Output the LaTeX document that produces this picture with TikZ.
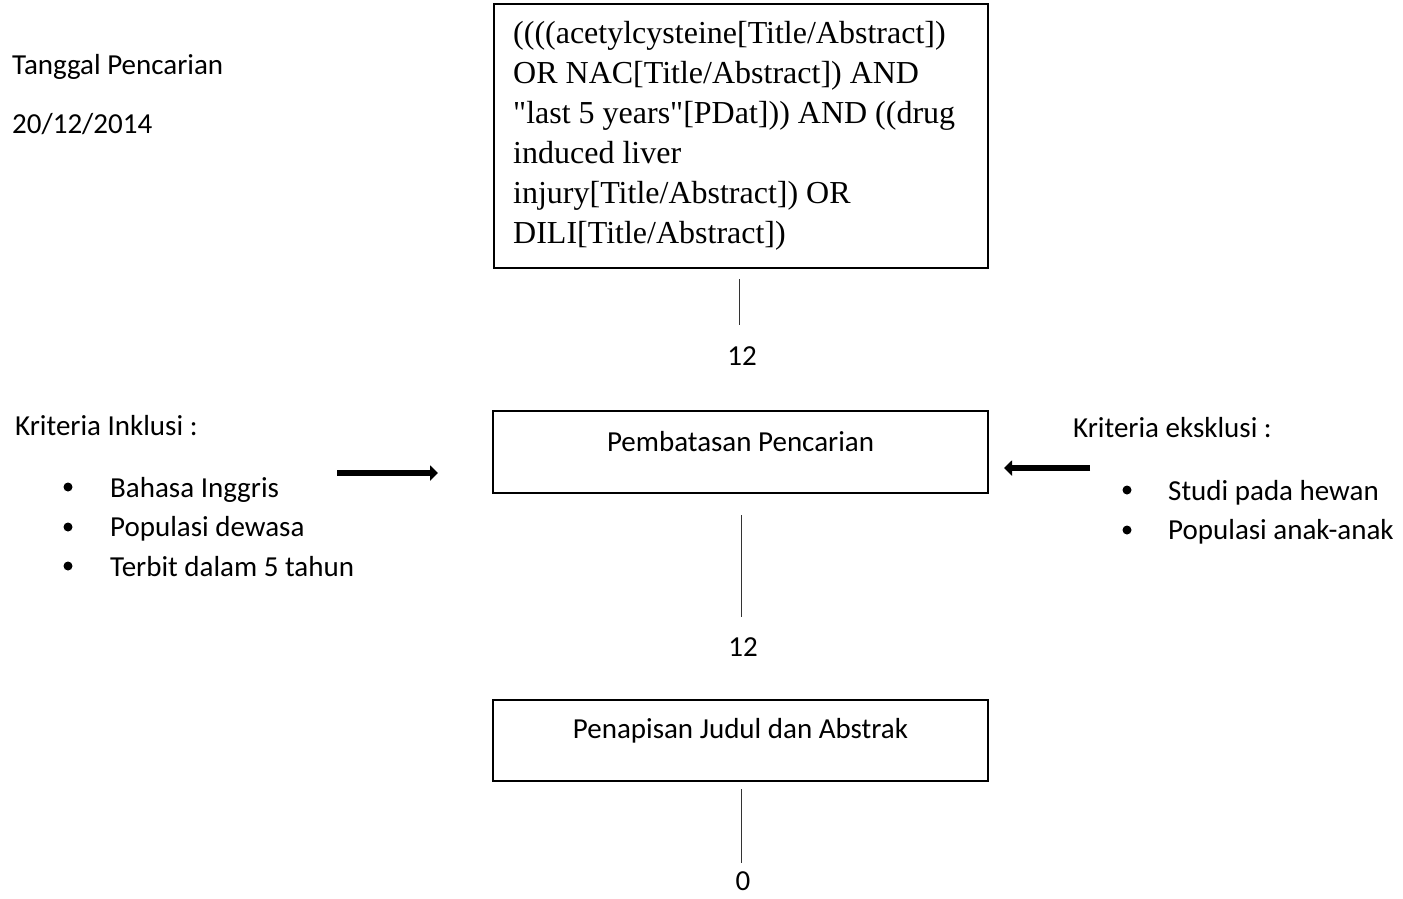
\documentclass[tikz,border=0pt]{standalone}
\usepackage{fontspec}
\setmainfont{Carlito}
\newfontfamily\tnr{Liberation Serif}
\usetikzlibrary{arrows.meta}
\tikzset{
  txt/.style={inner sep=0pt, anchor=base west, font=\fontsize{29}{39.5}\selectfont},
  num/.style={inner sep=0pt, anchor=base, text depth=0pt, font=\fontsize{29}{39.5}\selectfont},
  box/.style={draw, line width=1.6pt, inner xsep=0pt, inner ysep=0pt, minimum width=495pt, anchor=base, font=\fontsize{29}{39.5}\selectfont},
  conn/.style={line width=1pt, draw=black!80},
  fat/.style={line width=6.5pt, -{Triangle[width=15pt,length=8pt]}},
  bul/.style={fill=black}
}
\begin{document}
\begin{tikzpicture}[x=1pt,y=-1pt]
\useasboundingbox (0,0) rectangle (1403,898);
% left texts
\node[txt] (tgl) at (12,74) {Tanggal Pencarian};
\node[txt] (date) at (12,133) {20/12/2014};
% top query box
\draw[line width=1.6pt] (494,4) rectangle (988,268);
\node[inner sep=0pt, anchor=base west, font=\tnr\fontsize{32}{40}\selectfont] (query) at (513,43)
 {\begin{tabular}[t]{@{}l@{}}((((acetylcysteine[Title/Abstract])\\
 OR NAC[Title/Abstract]) AND\\
 "last 5 years"[PDat])) AND ((drug\\
 induced liver\\
 injury[Title/Abstract]) OR\\
 DILI[Title/Abstract])\end{tabular}};
\coordinate (top) at (741,268);
% first connector
\coordinate (c1a) at (739,279);
\coordinate (c1b) at (739,325);
\draw[conn] (c1a) -- (c1b);
\node[num] (n1) at (742,365) {12};
% box 2
\node[box, text height=40pt, text depth=42pt] (pemb) at (740.5,451) {Pembatasan Pencarian};
% inclusion
\node[txt] (inkl) at (15,435) {Kriteria Inklusi :};
\fill[bul] (68,487) circle (4.5pt);
\fill[bul] (68,527) circle (4.5pt);
\fill[bul] (68,566) circle (4.5pt);
\node[txt] (i1) at (110,497) {Bahasa Inggris};
\node[txt] (i2) at (110,536.5) {Populasi dewasa};
\node[txt] (i3) at (110,576) {Terbit dalam 5 tahun};
\coordinate (a1s) at (337,473);
\coordinate (a1e) at (438,473);
\draw[fat] (a1s) -- (a1e);
% exclusion
\node[txt] (eksk) at (1073,437) {Kriteria eksklusi :};
\fill[bul] (1127,490) circle (4.5pt);
\fill[bul] (1127,530) circle (4.5pt);
\node[txt] (e1) at (1168,500) {Studi pada hewan};
\node[txt] (e2) at (1168,539.5) {Populasi anak-anak};
\coordinate (a2s) at (1090,468);
\coordinate (a2e) at (1004,468);
\draw[fat] (a2s) -- (a2e);
% second connector
\coordinate (c2a) at (741,515);
\coordinate (c2b) at (741,617);
\draw[conn] (c2a) -- (c2b);
\node[num] (n2) at (743,656) {12};
% box 3
\node[box, text height=38pt, text depth=43pt] (pena) at (740.5,738) {Penapisan Judul dan Abstrak};
% third connector
\coordinate (c3a) at (741,789);
\coordinate (c3b) at (741,863);
\draw[conn] (c3a) -- (c3b);
\node[num] (n3) at (743,890) {0};
\end{tikzpicture}
\end{document}
